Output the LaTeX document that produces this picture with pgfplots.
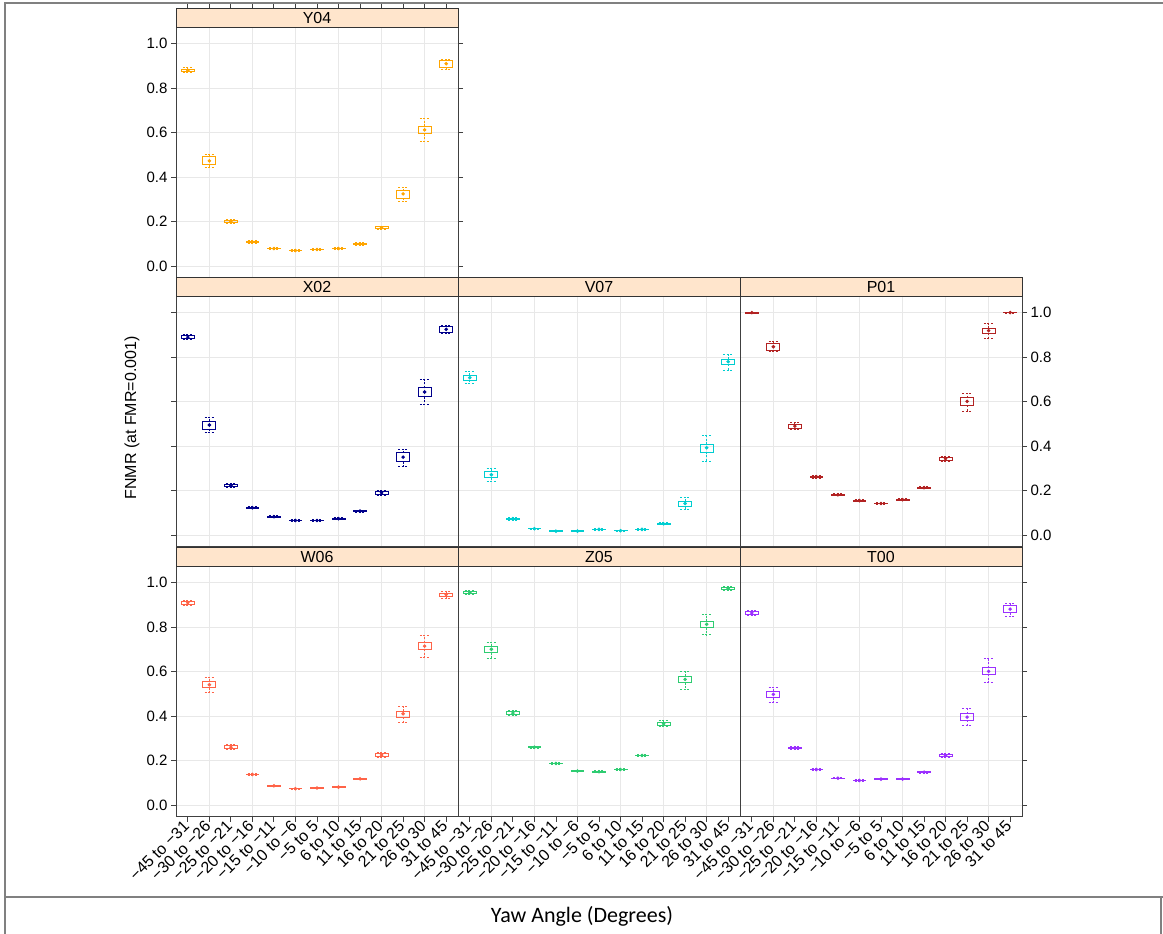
\documentclass[border=0pt]{standalone}
\usepackage{pgfplots}
\pgfplotsset{compat=1.18}
\usepackage{pgfplotstable}
\usepgfplotslibrary{statistics}
\usepackage{fontspec}
\setmainfont{Liberation Sans}
\newfontfamily\carlito{Carlito}

\definecolor{stripbg}{HTML}{FFE5CC}
\definecolor{cY}{HTML}{FFA500}
\definecolor{cX}{HTML}{00008B}
\definecolor{cV}{HTML}{00CED1}
\definecolor{cP}{HTML}{B22222}
\definecolor{cW}{HTML}{FF6347}
\definecolor{cZ}{HTML}{2ECC71}
\definecolor{cT}{HTML}{9B30FF}
\definecolor{gridc}{HTML}{E8E8E8}
\definecolor{framec}{HTML}{808080}

% Y04
\pgfplotstableread{
lw lq med uq uw
0.868 0.874 0.879 0.885 0.890
0.442 0.455 0.473 0.492 0.504
0.192 0.196 0.202 0.208 0.212
0.105 0.108 0.110 0.113 0.115
0.077 0.079 0.080 0.081 0.083
0.068 0.070 0.071 0.072 0.074
0.073 0.075 0.076 0.077 0.079
0.077 0.079 0.080 0.081 0.083
0.096 0.099 0.101 0.103 0.106
0.164 0.169 0.173 0.177 0.181
0.291 0.306 0.325 0.340 0.356
0.559 0.594 0.612 0.629 0.664
0.885 0.894 0.909 0.924 0.930
}\tY
% X02
\pgfplotstableread{
lw lq med uq uw
0.878 0.883 0.889 0.895 0.900
0.460 0.475 0.495 0.513 0.528
0.214 0.219 0.224 0.229 0.234
0.119 0.122 0.124 0.126 0.129
0.080 0.082 0.084 0.086 0.088
0.063 0.065 0.067 0.069 0.071
0.063 0.065 0.067 0.069 0.071
0.071 0.073 0.075 0.077 0.079
0.104 0.107 0.109 0.111 0.114
0.180 0.185 0.191 0.197 0.202
0.311 0.331 0.351 0.371 0.386
0.587 0.622 0.643 0.662 0.700
0.905 0.912 0.924 0.936 0.943
}\tX
% V07
\pgfplotstableread{
lw lq med uq uw
0.680 0.695 0.707 0.717 0.737
0.243 0.259 0.272 0.288 0.300
0.068 0.072 0.075 0.078 0.082
0.027 0.029 0.030 0.031 0.033
0.017 0.018 0.019 0.020 0.021
0.017 0.018 0.019 0.020 0.021
0.024 0.026 0.027 0.028 0.030
0.019 0.020 0.021 0.022 0.023
0.024 0.026 0.027 0.028 0.030
0.048 0.050 0.052 0.054 0.056
0.117 0.129 0.143 0.154 0.172
0.333 0.374 0.393 0.408 0.448
0.741 0.767 0.779 0.789 0.812
}\tV
% P01
\pgfplotstableread{
lw lq med uq uw
0.995 0.997 0.999 1.000 1.000
0.824 0.831 0.846 0.861 0.871
0.475 0.481 0.490 0.499 0.505
0.257 0.260 0.263 0.266 0.269
0.178 0.180 0.182 0.184 0.186
0.152 0.154 0.156 0.158 0.160
0.139 0.141 0.143 0.145 0.147
0.156 0.158 0.160 0.162 0.164
0.209 0.212 0.214 0.216 0.219
0.333 0.338 0.344 0.350 0.356
0.555 0.583 0.601 0.617 0.637
0.883 0.906 0.918 0.928 0.950
0.996 0.998 0.999 1.000 1.000
}\tP
% W06
\pgfplotstableread{
lw lq med uq uw
0.897 0.903 0.909 0.915 0.921
0.508 0.527 0.541 0.557 0.575
0.250 0.255 0.261 0.267 0.272
0.134 0.137 0.139 0.141 0.144
0.085 0.087 0.088 0.089 0.091
0.072 0.074 0.075 0.076 0.078
0.075 0.077 0.078 0.079 0.081
0.079 0.081 0.082 0.083 0.085
0.115 0.117 0.119 0.121 0.123
0.215 0.220 0.226 0.232 0.237
0.373 0.396 0.411 0.423 0.445
0.665 0.700 0.714 0.729 0.762
0.930 0.937 0.945 0.952 0.958
}\tW
% Z05
\pgfplotstableread{
lw lq med uq uw
0.946 0.950 0.954 0.958 0.962
0.661 0.684 0.700 0.714 0.732
0.404 0.409 0.414 0.420 0.425
0.257 0.259 0.261 0.263 0.265
0.185 0.187 0.188 0.189 0.191
0.150 0.152 0.154 0.156 0.158
0.147 0.149 0.151 0.153 0.155
0.158 0.160 0.161 0.162 0.164
0.220 0.222 0.224 0.226 0.228
0.352 0.360 0.366 0.372 0.380
0.520 0.550 0.565 0.578 0.600
0.765 0.797 0.812 0.825 0.857
0.962 0.967 0.972 0.977 0.982
}\tZ
% T00
\pgfplotstableread{
lw lq med uq uw
0.852 0.857 0.863 0.869 0.874
0.463 0.482 0.498 0.512 0.530
0.250 0.254 0.258 0.262 0.266
0.158 0.160 0.161 0.162 0.164
0.119 0.121 0.122 0.123 0.125
0.109 0.111 0.112 0.113 0.115
0.115 0.117 0.118 0.119 0.121
0.115 0.117 0.118 0.119 0.121
0.144 0.147 0.149 0.151 0.154
0.215 0.220 0.224 0.228 0.233
0.358 0.381 0.396 0.411 0.433
0.550 0.587 0.601 0.617 0.658
0.848 0.864 0.880 0.897 0.907
}\tT

\pgfplotsset{
  geom/.style={
    scale only axis, width=282pt, height=269.5pt,
    anchor=south west,
    xmin=-0.55, xmax=12.55, ymin=-0.052, ymax=1.1564,
    xtick={0,...,12},
    ytick={0,0.2,0.4,0.6,0.8,1.0},
    major tick length=5pt,
    tick align=outside,
    tick style={black!75, line width=0.9pt},
  },
  panel/.style={
    geom,
    minor xtick={1,3,5,7,9,11},
    yticklabels={0.0,0.2,0.4,0.6,0.8,1.0},
    xticklabels={},
    xminorgrids=true, ymajorgrids=true,
    minor grid style={gridc, line width=0.8pt},
    major grid style={gridc, line width=0.8pt},
    minor tick length=0pt,
    axis line style={black!75, line width=1pt},
    ticklabel style={font=\fontsize{15}{18}\selectfont},
    yticklabel style={anchor=east},
    clip=false,
    boxplot/draw direction=y,
    boxplot/box extend=0.6,
    boxplot/whisker extend=0.45,
    boxplot/every whisker/.style={dash pattern=on 2pt off 1.5pt},
    boxplot/draw/median/.code={\fill (boxplot box cs:\pgfplotsboxplotvalue{median},0.5) circle[radius=1.3pt];},
  },
  noxt/.style={xtick pos=left, major x tick style={draw=none}},
  noyt/.style={major y tick style={draw=none}, yticklabels={}},
  botx/.style={xtick pos=left,
    xticklabels={−45 to −31,−30 to −26,−25 to −21,−20 to −16,−15 to −11,−10 to −6,−5 to 5,6 to 10,11 to 15,16 to 20,21 to 25,26 to 30,31 to 45},
    xticklabel style={rotate=45, anchor=east, inner sep=2pt, font=\fontsize{16}{19}\selectfont}},
}

\newcommand\boxes[2]{%
  \pgfplotsinvokeforeach{0,...,12}{%
    \pgfplotstablegetelem{##1}{lw}\of#1\edef\vlw{\pgfplotsretval}%
    \pgfplotstablegetelem{##1}{lq}\of#1\edef\vlq{\pgfplotsretval}%
    \pgfplotstablegetelem{##1}{med}\of#1\edef\vmed{\pgfplotsretval}%
    \pgfplotstablegetelem{##1}{uq}\of#1\edef\vuq{\pgfplotsretval}%
    \pgfplotstablegetelem{##1}{uw}\of#1\edef\vuw{\pgfplotsretval}%
    \edef\tmp{\noexpand\addplot[#2, line width=0.9pt,
      boxplot prepared={draw position=##1,
        lower whisker=\vlw, lower quartile=\vlq, median=\vmed,
        upper quartile=\vuq, upper whisker=\vuw}] coordinates {};}%
    \tmp
  }%
}
\newcommand\strip[1]{%
  \draw[fill=stripbg, draw=black!80, line width=1pt] (axis cs:-0.55,1.069) rectangle (axis cs:12.55,1.1564);
  \node[font=\fontsize{16}{19}\selectfont] at (axis cs:6,1.1127) {#1};
}

\begin{document}
\begin{tikzpicture}
\useasboundingbox (0,0) rectangle (1163pt,934pt);

% row 1
\begin{axis}[panel, noxt, at={(176pt,656pt)}, ytick pos=left]
\boxes{\tY}{cY}
\strip{Y04}
\end{axis}
% top and right-hand ticks of Y04
\begin{axis}[geom, at={(176pt,656pt)}, axis x line*=top, axis y line*=right,
  axis line style={draw=none}, xticklabels={}, yticklabels={}, tick align=outside]
\end{axis}

% row 2
\begin{axis}[panel, noxt, at={(176pt,387pt)}, ytick pos=left, yticklabels={}]
\boxes{\tX}{cX}
\strip{X02}
\end{axis}
\begin{axis}[panel, noxt, noyt, at={(458pt,387pt)}]
\boxes{\tV}{cV}
\strip{V07}
\end{axis}
\begin{axis}[panel, noxt, at={(740pt,387pt)}, ytick pos=right, yticklabel pos=right, yticklabel style={anchor=west}]
\boxes{\tP}{cP}
\strip{P01}
\end{axis}

% row 3
\begin{axis}[panel, botx, at={(176pt,117pt)}, ytick pos=left]
\boxes{\tW}{cW}
\strip{W06}
\end{axis}
\begin{axis}[panel, botx, noyt, at={(458pt,117pt)}]
\boxes{\tZ}{cZ}
\strip{Z05}
\end{axis}
\begin{axis}[panel, botx, at={(740pt,117pt)}, ytick pos=right, yticklabels={}]
\boxes{\tT}{cT}
\strip{T00}
\end{axis}

\node[rotate=90, font=\fontsize{16}{19}\selectfont] at (132pt,516pt) {FNMR (at FMR=0.001)};
\node[font=\carlito\fontsize{22}{26}\selectfont] at (582pt,18pt) {Yaw Angle (Degrees)};

\draw[framec, line width=2pt] (4.5pt,0pt) -- (4.5pt,931pt) -- (1163pt,931pt);
\draw[framec, line width=2pt] (4.5pt,37pt) -- (1163pt,37pt);
\draw[framec, line width=2pt] (1160.5pt,0pt) -- (1160.5pt,37pt);
\end{tikzpicture}
\end{document}
